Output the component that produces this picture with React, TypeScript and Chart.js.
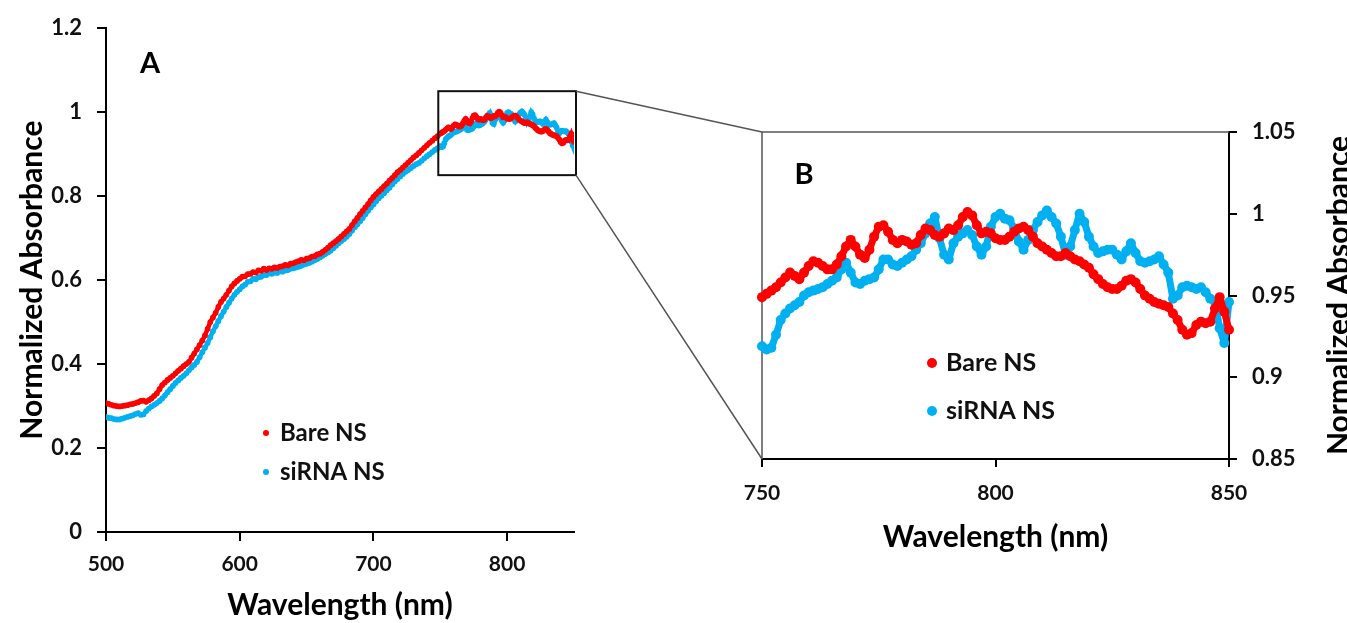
import React, { useEffect, useRef } from "react";
import { Chart, registerables } from "chart.js";
Chart.register(...registerables);

// ---------- data ----------
const wavelengthsCoarse = [
  500, 502, 504, 506, 508, 510, 512, 514, 516, 518,
  520, 522, 524, 526, 528, 530, 532, 534, 536, 538,
  540, 542, 544, 546, 548, 550, 552, 554, 556, 558,
  560, 562, 564, 566, 568, 570, 572, 574, 576, 578,
  580, 582, 584, 586, 588, 590, 592, 594, 596, 598,
  600, 602, 604, 606, 608, 610, 612, 614, 616, 618,
  620, 622, 624, 626, 628, 630, 632, 634, 636, 638,
  640, 642, 644, 646, 648, 650, 652, 654, 656, 658,
  660, 662, 664, 666, 668, 670, 672, 674, 676, 678,
  680, 682, 684, 686, 688, 690, 692, 694, 696, 698,
  700, 702, 704, 706, 708, 710, 712, 714, 716, 718,
  720, 722, 724, 726, 728, 730, 732, 734, 736, 738,
  740, 742, 744, 746, 748,
];
const bareCoarse = [
  0.307, 0.305, 0.303, 0.301, 0.300, 0.299, 0.300, 0.301, 0.302, 0.304,
  0.305, 0.307, 0.309, 0.312, 0.313, 0.310, 0.314, 0.318, 0.324, 0.330,
  0.340, 0.350, 0.356, 0.362, 0.367, 0.372, 0.378, 0.384, 0.389, 0.395,
  0.400, 0.405, 0.415, 0.425, 0.435, 0.445, 0.456, 0.468, 0.484, 0.500,
  0.511, 0.522, 0.536, 0.548, 0.556, 0.565, 0.575, 0.585, 0.592, 0.598,
  0.603, 0.608, 0.609, 0.614, 0.615, 0.619, 0.618, 0.623, 0.622, 0.627,
  0.624, 0.628, 0.627, 0.630, 0.629, 0.632, 0.633, 0.636, 0.635, 0.639,
  0.640, 0.643, 0.645, 0.648, 0.647, 0.651, 0.652, 0.656, 0.657, 0.661,
  0.663, 0.667, 0.672, 0.677, 0.683, 0.688, 0.693, 0.698, 0.704, 0.710,
  0.716, 0.722, 0.731, 0.740, 0.748, 0.757, 0.765, 0.773, 0.781, 0.790,
  0.798, 0.805, 0.811, 0.817, 0.824, 0.830, 0.837, 0.843, 0.850, 0.857,
  0.862, 0.868, 0.874, 0.880, 0.886, 0.892, 0.897, 0.903, 0.909, 0.915,
  0.921, 0.927, 0.932, 0.938, 0.943,
];
const sirnaCoarse = [
  0.274, 0.272, 0.271, 0.269, 0.268, 0.268, 0.270, 0.272, 0.274, 0.276,
  0.278, 0.281, 0.283, 0.279, 0.280, 0.288, 0.294, 0.299, 0.303, 0.307,
  0.312, 0.318, 0.325, 0.333, 0.340, 0.348, 0.355, 0.361, 0.367, 0.372,
  0.378, 0.385, 0.392, 0.398, 0.405, 0.416, 0.428, 0.439, 0.450, 0.464,
  0.478, 0.490, 0.502, 0.514, 0.525, 0.536, 0.546, 0.556, 0.565, 0.572,
  0.578, 0.585, 0.589, 0.596, 0.597, 0.603, 0.602, 0.607, 0.608, 0.612,
  0.612, 0.616, 0.615, 0.618, 0.617, 0.621, 0.620, 0.623, 0.624, 0.627,
  0.628, 0.630, 0.632, 0.634, 0.637, 0.639, 0.641, 0.644, 0.647, 0.650,
  0.654, 0.658, 0.662, 0.666, 0.670, 0.676, 0.682, 0.688, 0.693, 0.698,
  0.703, 0.710, 0.718, 0.726, 0.733, 0.740, 0.748, 0.757, 0.765, 0.773,
  0.780, 0.788, 0.795, 0.801, 0.807, 0.814, 0.820, 0.828, 0.835, 0.841,
  0.847, 0.853, 0.858, 0.862, 0.867, 0.872, 0.876, 0.879, 0.884, 0.890,
  0.895, 0.900, 0.905, 0.910, 0.914,
];

const wavelengthsFine = [
  750, 751, 752, 753, 754, 755, 756, 757, 758, 759,
  760, 761, 762, 763, 764, 765, 766, 767, 768, 769,
  770, 771, 772, 773, 774, 775, 776, 777, 778, 779,
  780, 781, 782, 783, 784, 785, 786, 787, 788, 789,
  790, 791, 792, 793, 794, 795, 796, 797, 798, 799,
  800, 801, 802, 803, 804, 805, 806, 807, 808, 809,
  810, 811, 812, 813, 814, 815, 816, 817, 818, 819,
  820, 821, 822, 823, 824, 825, 826, 827, 828, 829,
  830, 831, 832, 833, 834, 835, 836, 837, 838, 839,
  840, 841, 842, 843, 844, 845, 846, 847, 848, 849,
  850,
];
const bareFine = [
  0.949, 0.951, 0.953, 0.955, 0.958, 0.961, 0.964, 0.962, 0.960, 0.964,
  0.968, 0.971, 0.970, 0.968, 0.966, 0.966, 0.969, 0.974, 0.980, 0.984,
  0.980, 0.975, 0.973, 0.978, 0.986, 0.992, 0.993, 0.989, 0.984, 0.982,
  0.984, 0.983, 0.981, 0.982, 0.987, 0.991, 0.990, 0.987, 0.986, 0.988,
  0.991, 0.990, 0.993, 0.998, 1.001, 0.999, 0.993, 0.988, 0.989, 0.988,
  0.985, 0.984, 0.984, 0.986, 0.989, 0.991, 0.992, 0.990, 0.986, 0.982,
  0.980, 0.978, 0.976, 0.974, 0.974, 0.976, 0.974, 0.972, 0.971, 0.969,
  0.967, 0.963, 0.960, 0.957, 0.955, 0.954, 0.954, 0.956, 0.959, 0.960,
  0.958, 0.954, 0.950, 0.948, 0.946, 0.945, 0.944, 0.943, 0.939, 0.935,
  0.929, 0.926, 0.927, 0.932, 0.934, 0.933, 0.934, 0.942, 0.949, 0.940,
  0.929,
];
const sirnaFine = [
  0.919, 0.917, 0.918, 0.926, 0.935, 0.939, 0.942, 0.944, 0.946, 0.950,
  0.952, 0.953, 0.954, 0.955, 0.957, 0.959, 0.961, 0.966, 0.970, 0.964,
  0.958, 0.957, 0.959, 0.960, 0.961, 0.966, 0.972, 0.972, 0.969, 0.968,
  0.970, 0.972, 0.974, 0.978, 0.982, 0.988, 0.994, 0.998, 0.985, 0.975,
  0.972, 0.982, 0.986, 0.988, 0.990, 0.987, 0.980, 0.975, 0.980, 0.992,
  0.998, 1.000, 0.997, 0.996, 0.991, 0.983, 0.978, 0.984, 0.990, 0.995,
  0.999, 1.002, 0.998, 0.994, 0.986, 0.975, 0.980, 0.990, 1.000, 0.995,
  0.986, 0.980, 0.976, 0.977, 0.978, 0.978, 0.975, 0.972, 0.977, 0.982,
  0.976, 0.971, 0.970, 0.971, 0.972, 0.974, 0.969, 0.964, 0.948, 0.950,
  0.955, 0.956, 0.955, 0.954, 0.955, 0.952, 0.948, 0.946, 0.930, 0.921,
  0.946,
];

const seriesLabels = ["Bare NS", "siRNA NS"];
const xTicksA = [500, 600, 700, 800];
const yTicksA = [0, 0.2, 0.4, 0.6, 0.8, 1, 1.2];
const xTicksB = [750, 800, 850];
const yTicksB = [0.85, 0.9, 0.95, 1, 1.05];
const rangeA = { xMin: 500, xMax: 850, yMin: 0, yMax: 1.2 };
const rangeB = { xMin: 750, xMax: 850, yMin: 0.85, yMax: 1.05 };

// ---------- styles ----------
const RED = "#FF0000";
const BLUE = "#00B0F0";
const FONT = "Lato, 'Open Sans', sans-serif";
const TXT = "#111";

const fmt = (v: number) => String(Math.round(v * 100) / 100);
const toPts = (xs: number[], ys: number[]) => xs.map((x, i) => ({ x, y: ys[i] }));

const axisCommon = (tickLen: number, pad: number, size: number) => ({
  grid: { drawOnChartArea: false, drawTicks: true, tickLength: tickLen, color: "#000", lineWidth: 2 },
  border: { display: true, color: "#000", width: 2 },
  ticks: { font: { family: FONT, size, weight: "bold" }, color: TXT, padding: pad, callback: (v: any) => fmt(Number(v)) },
});
const titleFont = { family: FONT, size: 30, weight: "bold" };

export default function App() {
  const refA = useRef<HTMLCanvasElement>(null);
  const refB = useRef<HTMLCanvasElement>(null);
  const refO = useRef<HTMLCanvasElement>(null);

  useEffect(() => {
    const bareAll = toPts(wavelengthsCoarse.concat(wavelengthsFine), bareCoarse.concat(bareFine));
    const sirnaAll = toPts(wavelengthsCoarse.concat(wavelengthsFine), sirnaCoarse.concat(sirnaFine));

    const drawLegend = (ctx: CanvasRenderingContext2D, x: number, y: number, gap: number, r: number, size: number) => {
      const colors = [RED, BLUE];
      ctx.save();
      ctx.font = `bold ${size}px ${FONT}`;
      ctx.textBaseline = "middle";
      ctx.textAlign = "left";
      seriesLabels.forEach((lab, i) => {
        const yy = y + i * gap;
        ctx.fillStyle = colors[i];
        ctx.beginPath();
        ctx.arc(x, yy, r, 0, Math.PI * 2);
        ctx.fill();
        ctx.fillStyle = TXT;
        ctx.fillText(lab, x + 14, yy);
      });
      ctx.restore();
    };

    const pluginA = {
      id: "annotA",
      afterDatasetsDraw(chart: any) {
        const { ctx, chartArea: ca, scales } = chart;
        const x0 = scales.x.getPixelForValue(rangeB.xMin);
        const x1 = scales.x.getPixelForValue(rangeB.xMax);
        const y0 = scales.y.getPixelForValue(rangeB.yMax);
        const y1 = scales.y.getPixelForValue(rangeB.yMin);
        ctx.save();
        ctx.strokeStyle = "#111";
        ctx.lineWidth = 2;
        ctx.strokeRect(x0 - 2, y0, x1 - x0 + 4, y1 - y0);
        ctx.font = `bold 29px ${FONT}`;
        ctx.fillStyle = "#000";
        ctx.textAlign = "center";
        ctx.textBaseline = "middle";
        ctx.fillText("A", ca.left + 44, ca.top + 35);
        ctx.restore();
        drawLegend(ctx, ca.left + 160, 433, 39, 3, 24);
      },
    };

    const pluginB = {
      id: "annotB",
      beforeDatasetsDraw(chart: any) {
        const { ctx, chartArea: ca } = chart;
        ctx.save();
        ctx.strokeStyle = "#555";
        ctx.lineWidth = 1.5;
        ctx.beginPath();
        ctx.moveTo(ca.left, ca.bottom);
        ctx.lineTo(ca.left, ca.top);
        ctx.lineTo(ca.right, ca.top);
        ctx.stroke();
        ctx.restore();
      },
      afterDraw(chart: any) {
        const { ctx, chartArea: ca } = chart;
        ctx.save();
        ctx.font = `bold 29px ${FONT}`;
        ctx.fillStyle = "#000";
        ctx.textAlign = "center";
        ctx.textBaseline = "middle";
        ctx.fillText("B", ca.left + 42, ca.top + 43);
        ctx.font = `bold 30px ${FONT}`;
        ctx.translate(ca.right + 110, (ca.top + ca.bottom) / 2);
        ctx.rotate(-Math.PI / 2);
        ctx.fillText("Normalized Absorbance", 0, 0);
        ctx.restore();
        drawLegend(ctx, ca.left + 170, 363, 48, 5, 25);
      },
    };

    const chartA = new Chart(refA.current as HTMLCanvasElement, {
      type: "scatter",
      data: {
        datasets: [
          { label: seriesLabels[0], data: bareAll, borderColor: RED, backgroundColor: RED, showLine: true, borderWidth: 4.5, pointRadius: 2.9, pointBorderWidth: 0, pointHoverRadius: 0 },
          { label: seriesLabels[1], data: sirnaAll, borderColor: BLUE, backgroundColor: BLUE, showLine: true, borderWidth: 4.5, pointRadius: 2.9, pointBorderWidth: 0, pointHoverRadius: 0 },
        ],
      },
      options: {
        responsive: false,
        animation: false,
        events: [],
        layout: { padding: { top: 24, right: 46, left: 0, bottom: 0 } },
        plugins: { legend: { display: false }, tooltip: { enabled: false } },
        scales: {
          x: {
            type: "linear", min: rangeA.xMin, max: rangeA.xMax,
            afterBuildTicks: (s: any) => { s.ticks = xTicksA.map((v) => ({ value: v })); },
            afterFit: (s: any) => { s.height = 91; },
            ...axisCommon(9, 11, 21),
            title: { display: true, text: "Wavelength (nm)", color: "#000", font: titleFont, padding: { top: 0, bottom: 0 } },
          },
          y: {
            type: "linear", min: rangeA.yMin, max: rangeA.yMax,
            afterBuildTicks: (s: any) => { s.ticks = yTicksA.map((v) => ({ value: v })); },
            afterFit: (s: any) => { s.width = 106; },
            ...axisCommon(9, 15, 22),
            title: { display: true, text: "Normalized Absorbance", color: "#000", font: titleFont, padding: { top: 14, bottom: 0 } },
          },
        },
      } as any,
      plugins: [pluginA],
    });

    const chartB = new Chart(refB.current as HTMLCanvasElement, {
      type: "scatter",
      data: {
        datasets: [
          { label: seriesLabels[0], data: toPts(wavelengthsFine, bareFine), borderColor: RED, backgroundColor: RED, showLine: true, borderWidth: 7, borderJoinStyle: "round", borderCapStyle: "round", pointRadius: 5, pointBorderWidth: 0, pointHoverRadius: 0, clip: false },
          { label: seriesLabels[1], data: toPts(wavelengthsFine, sirnaFine), borderColor: BLUE, backgroundColor: BLUE, showLine: true, borderWidth: 7, borderJoinStyle: "round", borderCapStyle: "round", pointRadius: 5, pointBorderWidth: 0, pointHoverRadius: 0, clip: false },
        ],
      },
      options: {
        responsive: false,
        animation: false,
        events: [],
        layout: { padding: { top: 132, right: 0, left: 62, bottom: 0 } },
        plugins: { legend: { display: false }, tooltip: { enabled: false } },
        scales: {
          x: {
            type: "linear", min: rangeB.xMin, max: rangeB.xMax,
            afterBuildTicks: (s: any) => { s.ticks = xTicksB.map((v) => ({ value: v })); },
            afterFit: (s: any) => { s.height = 164; },
            ...axisCommon(8, 14, 21),
            title: { display: true, text: "Wavelength (nm)", color: "#000", font: titleFont, padding: { top: 0, bottom: 68 } },
          },
          y: {
            type: "linear", position: "right", min: rangeB.yMin, max: rangeB.yMax,
            afterBuildTicks: (s: any) => { s.ticks = yTicksB.map((v) => ({ value: v })); },
            afterFit: (s: any) => { s.width = 118; },
            ...axisCommon(8, 15, 22),
          },
        },
      } as any,
      plugins: [pluginB],
    });

    // connecting lines between the zoom box (chart A) and chart B
    const offB = 700;
    const ov = refO.current as HTMLCanvasElement;
    const octx = ov.getContext("2d") as CanvasRenderingContext2D;
    octx.clearRect(0, 0, ov.width, ov.height);
    const bx = chartA.scales.x.getPixelForValue(rangeB.xMax) + 2;
    const byTop = chartA.scales.y.getPixelForValue(rangeB.yMax);
    const byBot = chartA.scales.y.getPixelForValue(rangeB.yMin);
    const ca = chartB.chartArea;
    octx.strokeStyle = "#555";
    octx.lineWidth = 1.5;
    octx.beginPath();
    octx.moveTo(bx, byTop);
    octx.lineTo(offB + ca.left, ca.top);
    octx.moveTo(bx, byBot);
    octx.lineTo(offB + ca.left, ca.bottom);
    octx.stroke();

    return () => {
      chartA.destroy();
      chartB.destroy();
    };
  }, []);

  return (
    <div style={{ position: "absolute", left: 0, top: 0, width: 1347, height: 623, overflow: "hidden", background: "#fff" }}>
      <canvas ref={refA} width={620} height={623} style={{ position: "absolute", left: 0, top: 0 }} />
      <canvas ref={refB} width={647} height={623} style={{ position: "absolute", left: 700, top: 0 }} />
      <canvas ref={refO} width={1347} height={623} style={{ position: "absolute", left: 0, top: 0, pointerEvents: "none" }} />
    </div>
  );
}
